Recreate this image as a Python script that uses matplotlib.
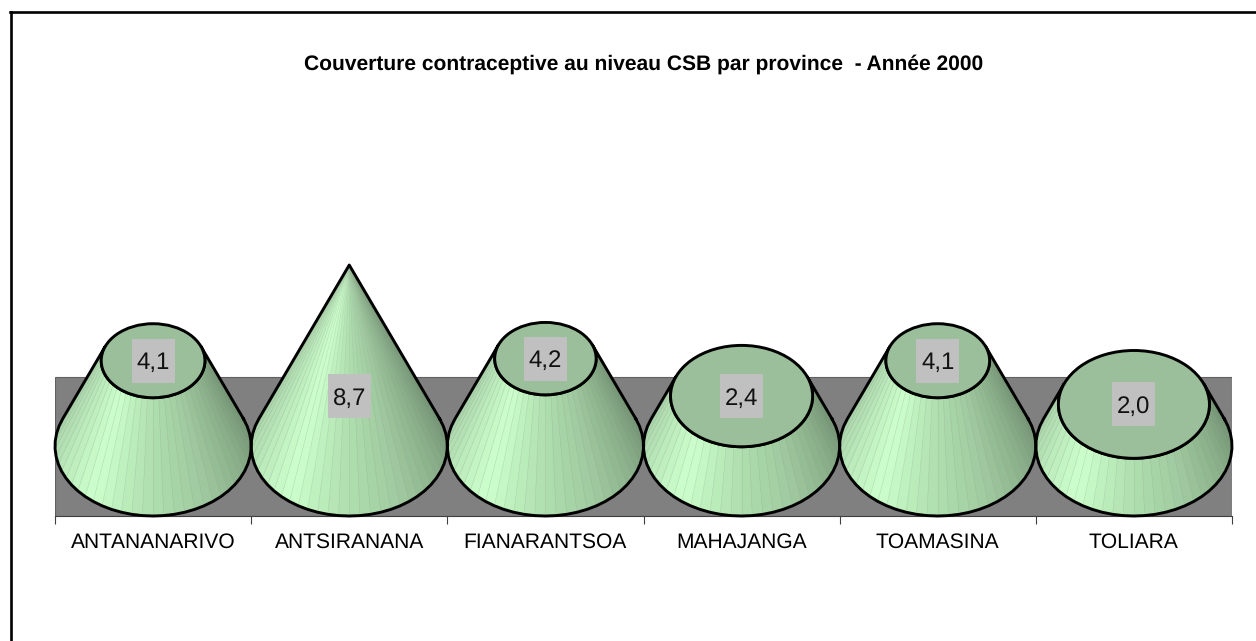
import matplotlib
matplotlib.use("Agg")
import matplotlib.pyplot as plt
import numpy as np
from matplotlib.collections import LineCollection, PolyCollection
from matplotlib.patches import Ellipse, Rectangle

title = "Couverture contraceptive au niveau CSB par province  - Année 2000"
provinces = ["ANTANANARIVO", "ANTSIRANANA", "FIANARANTSOA", "MAHAJANGA", "TOAMASINA", "TOLIARA"]
values = [4.1, 8.7, 4.2, 2.4, 4.1, 2.0]
labels = ["4,1", "8,7", "4,2", "2,4", "4,1", "2,0"]

W, H = 1256, 641
LEFT, RIGHT = 55, 1232
BOTTOM, TOP = 516, 250
PX_PER_UNIT = 20.8
DEPTH = 70 / PX_PER_UNIT
WALL_TOP = 69 / PX_PER_UNIT
N_FACETS = 36

# colour along the cone, left to right
stop_pos = [0.0, 0.15, 0.33, 0.42, 0.5, 0.65, 0.85, 1.0]
stop_col = np.array([[165, 205, 165], [180, 225, 180], [204, 255, 204], [188, 238, 188],
                     [175, 222, 175], [158, 200, 158], [128, 163, 128], [108, 138, 108]]) / 255


def facet_colour(p):
    return [np.interp(p, stop_pos, stop_col[:, i]) for i in range(3)]


def draw_cone(ax, x0, v, vmax):
    f = 1 - v / vmax
    t0 = np.arcsin(DEPTH / vmax)
    t = np.linspace(-t0, np.pi + t0, N_FACETS + 1)
    bx, by = x0 + 0.5 * np.cos(t), -DEPTH * np.sin(t)
    tx, ty = x0 + 0.5 * f * np.cos(t), v - DEPTH * f * np.sin(t)

    polys = []
    cols = []
    for i in range(N_FACETS):
        polys.append([(bx[i], by[i]), (bx[i + 1], by[i + 1]), (tx[i + 1], ty[i + 1]), (tx[i], ty[i])])
        cols.append(facet_colour(1 - (i + 0.5) / N_FACETS))
    ax.add_collection(PolyCollection(polys, facecolors=cols, edgecolors=cols, linewidths=0.5, zorder=3))
    # faint seams between the facets
    seams = [[(bx[i], by[i]), (tx[i], ty[i])] for i in range(1, N_FACETS)]
    ax.add_collection(LineCollection(seams, colors="#8f9f8f", linewidths=0.4, alpha=0.3, zorder=3))

    ax.plot(np.r_[bx, tx[::-1], bx[0]], np.r_[by, ty[::-1], by[0]], color="black", lw=2.1,
            solid_joinstyle="round", zorder=4, clip_on=False)
    if f > 0:
        ax.add_patch(Ellipse((x0, v), f, 2 * DEPTH * f, fc="#9bbf9b", ec="black", lw=2.1, zorder=5))


plt.rcParams["font.family"] = ["Liberation Sans", "DejaVu Sans"]
plt.rcParams["text.hinting"] = "none"
plt.rcParams["text.hinting_factor"] = 1

fig = plt.figure(figsize=(W / 100, H / 100), dpi=100)

# outer frame, runs off the right and bottom edge
fig.add_artist(plt.Line2D([11 / W, 11 / W], [0, 1 - 12 / H], color="black", lw=1.9))
fig.add_artist(plt.Line2D([10 / W, 1], [1 - 12 / H, 1 - 12 / H], color="black", lw=1.9))

ax = fig.add_axes([LEFT / W, 1 - BOTTOM / H, (RIGHT - LEFT) / W, (BOTTOM - TOP) / H])
ax.set_xlim(-0.5, len(values) - 0.5)
ax.set_ylim(-DEPTH, -DEPTH + (BOTTOM - TOP) / PX_PER_UNIT)
for s in ["top", "left", "right"]:
    ax.spines[s].set_visible(False)
ax.patch.set_visible(False)
ax.spines["bottom"].set_linewidth(0.8)
ax.spines["bottom"].set_color("#404040")

ax.add_patch(Rectangle((-0.5, -DEPTH), len(values), DEPTH + WALL_TOP, fc="#808080", ec="#606060", lw=0.8, zorder=1))

for i, v in enumerate(values):
    draw_cone(ax, i, v, max(values))

    # the full cone has its label lower down, not at the tip
    y = v if v < max(values) else 2.4
    bw, bh = 43 / ((RIGHT - LEFT) / len(values)), 44 / PX_PER_UNIT
    ax.add_patch(Rectangle((i - bw / 2, y - bh / 2), bw, bh, fc="#c0c0c0", ec="none", zorder=6))
    ax.text(i, y, labels[i], ha="center", va="center_baseline", fontsize=17, color="#111111", zorder=7)

ax.set_xticks(np.arange(len(values) + 1) - 0.5)
ax.set_xticklabels([])
ax.tick_params(axis="x", which="major", length=6, width=0.8, color="#404040")
ax.set_xticks(np.arange(len(values)), minor=True)
ax.set_xticklabels(provinces, minor=True, fontsize=15.1)
ax.tick_params(axis="x", which="minor", length=0, pad=12)
ax.set_yticks([])

fig.text(644 / W, 1 - 64 / H, title, ha="center", va="center", fontsize=15.3, fontweight="bold")

fig.savefig("out.png", dpi=100)
